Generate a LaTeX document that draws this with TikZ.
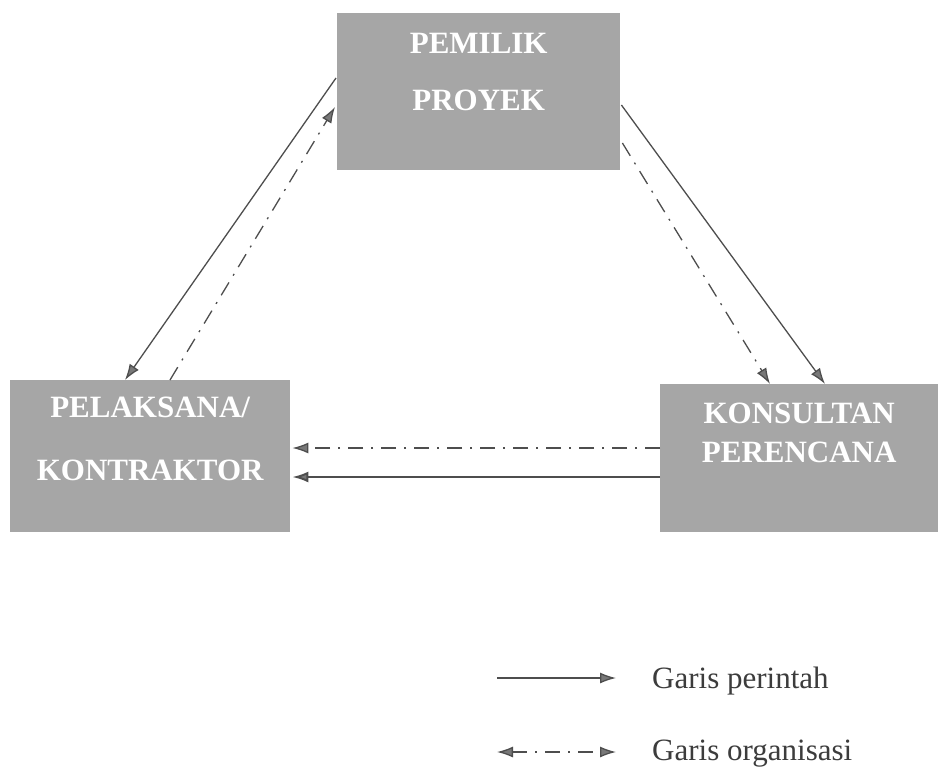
\documentclass[tikz,border=0pt]{standalone}
\usepackage{fontspec}
\setmainfont{Liberation Serif}
\usetikzlibrary{arrows.meta,calc}
\definecolor{boxgray}{RGB}{166,166,166}
\definecolor{linegray}{RGB}{78,78,78}
\definecolor{tipgray}{RGB}{120,120,120}
\definecolor{legtextgray}{RGB}{60,60,60}
\begin{document}
\begin{tikzpicture}[x=1pt,y=-1pt,
  box/.style={rectangle, fill=boxgray, draw=none, inner sep=0pt, anchor=north west},
  boxtext/.style={font=\fontsize{31}{37}\selectfont\bfseries, text=white, anchor=base, inner sep=0pt},
  legtext/.style={font=\fontsize{31}{37}\selectfont, text=legtextgray, anchor=base west, inner sep=0pt},
  tip/.tip={Latex[length=16pt,width=11pt,fill=tipgray]},
  cmd/.style={draw=linegray, line width=1.3pt, -tip},
  cmdh/.style={draw=linegray, line width=2pt, -tip},
  org/.style={draw=linegray, line width=1.3pt, -tip, dash pattern=on 15pt off 8pt on 2pt off 8pt}]
\useasboundingbox (0,0) rectangle (944,768);
\fill[white] (0,0) rectangle (944,768);

% boxes
\node[box, minimum width=283pt, minimum height=157pt] (top) at (337,13) {};
\node[box, minimum width=280pt, minimum height=152pt] (left) at (10,380) {};
\node[box, minimum width=278pt, minimum height=148pt] (right) at (660,384) {};

% box texts
\node[boxtext] (t1) at ($(top.north)+(0,40.5)$) {PEMILIK};
\node[boxtext] (t2) at ($(top.north)+(0,97)$) {PROYEK};
\node[boxtext] (l1) at ($(left.north)+(0,37)$) {PELAKSANA/};
\node[boxtext] (l2) at ($(left.north)+(0,100)$) {KONTRAKTOR};
\node[boxtext] (r1) at ($(right.north)+(0,39)$) {KONSULTAN};
\node[boxtext] (r2) at ($(right.north)+(0,78)$) {PERENCANA};

% connectors
\draw[cmd] ($(top.north west)+(-1,65)$) -- ($(left.north west)+(115,0)$);
\draw[org] ($(left.north west)+(160,0)$) -- ($(top.north west)+(-2,94)$);
\draw[cmd] ($(top.north east)+(1,92)$) -- ($(right.north west)+(165,0)$);
\draw[org] ($(top.north east)+(2,130)$) -- ($(right.north west)+(110,0)$);
\draw[org] ($(right.north west)+(0,64)$) -- ($(left.north east)+(2,68)$);
\draw[cmdh] ($(right.north west)+(0,93)$) -- ($(left.north east)+(2,97)$);

% legend
\coordinate (ls1) at (497,678);
\coordinate (le1) at (616,678);
\coordinate (ls2) at (497,752);
\coordinate (le2) at (616,752);
\draw[cmd] (ls1) -- (le1);
\draw[org, tip-tip] (ls2) -- (le2);
\node[legtext] (g1) at (652,688) {Garis perintah};
\node[legtext] (g2) at (652,760) {Garis organisasi};
\end{tikzpicture}
\end{document}
